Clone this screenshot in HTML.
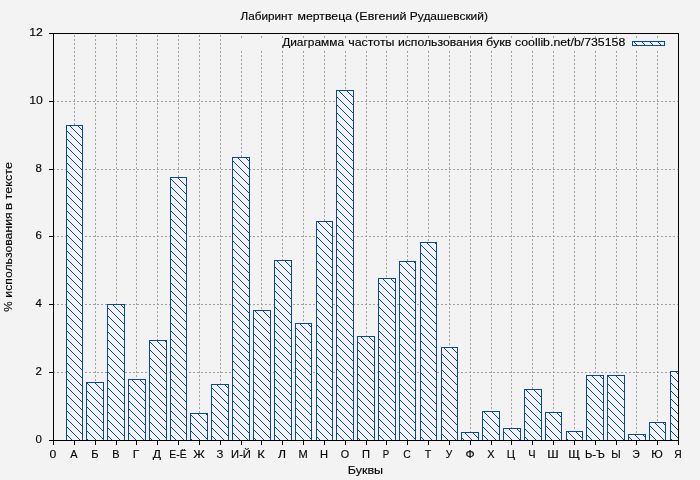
<!DOCTYPE html>
<html><head><meta charset="utf-8"><title>chart</title>
<style>html,body{margin:0;padding:0;background:#f3f3f3;}body{width:700px;height:480px;overflow:hidden;}svg{display:block;}text{font-family:"Liberation Sans",sans-serif;font-size:11.6px;fill:#000;stroke:#000;stroke-width:0.15;}</style>
</head><body>
<svg width="700" height="480" viewBox="0 0 700 480">
<defs><pattern id="h" x="0" y="0" width="8" height="8" patternUnits="userSpaceOnUse">
<rect x="0" y="0" width="8" height="8" fill="#f3f3f3"/>
<rect x="0" y="0" width="1" height="1" fill="#0645ad"/>
<rect x="1" y="1" width="1" height="1" fill="#0645ad"/>
<rect x="2" y="2" width="1" height="1" fill="#0645ad"/>
<rect x="3" y="3" width="1" height="1" fill="#0645ad"/>
<rect x="4" y="4" width="1" height="1" fill="#0645ad"/>
<rect x="5" y="5" width="1" height="1" fill="#0645ad"/>
<rect x="6" y="6" width="1" height="1" fill="#0645ad"/>
<rect x="7" y="7" width="1" height="1" fill="#0645ad"/>
</pattern></defs>
<rect x="0" y="0" width="700" height="480" fill="#f3f3f3"/>
<g stroke="#a0a0a0" stroke-width="1" stroke-dasharray="2 2" shape-rendering="crispEdges" fill="none">
<line x1="74.5" y1="441" x2="74.5" y2="34"/>
<line x1="95.5" y1="441" x2="95.5" y2="34"/>
<line x1="116.5" y1="441" x2="116.5" y2="34"/>
<line x1="136.5" y1="441" x2="136.5" y2="34"/>
<line x1="157.5" y1="441" x2="157.5" y2="34"/>
<line x1="178.5" y1="441" x2="178.5" y2="34"/>
<line x1="199.5" y1="441" x2="199.5" y2="34"/>
<line x1="220.5" y1="441" x2="220.5" y2="34"/>
<line x1="241.5" y1="441" x2="241.5" y2="50"/>
<line x1="241.5" y1="38" x2="241.5" y2="36"/>
<line x1="261.5" y1="441" x2="261.5" y2="50"/>
<line x1="261.5" y1="38" x2="261.5" y2="36"/>
<line x1="282.5" y1="441" x2="282.5" y2="50"/>
<line x1="282.5" y1="38" x2="282.5" y2="36"/>
<line x1="303.5" y1="441" x2="303.5" y2="50"/>
<line x1="303.5" y1="38" x2="303.5" y2="36"/>
<line x1="324.5" y1="441" x2="324.5" y2="50"/>
<line x1="324.5" y1="38" x2="324.5" y2="36"/>
<line x1="345.5" y1="441" x2="345.5" y2="50"/>
<line x1="345.5" y1="38" x2="345.5" y2="36"/>
<line x1="366.5" y1="441" x2="366.5" y2="50"/>
<line x1="366.5" y1="38" x2="366.5" y2="36"/>
<line x1="386.5" y1="441" x2="386.5" y2="50"/>
<line x1="386.5" y1="38" x2="386.5" y2="36"/>
<line x1="407.5" y1="441" x2="407.5" y2="50"/>
<line x1="407.5" y1="38" x2="407.5" y2="36"/>
<line x1="428.5" y1="441" x2="428.5" y2="50"/>
<line x1="428.5" y1="38" x2="428.5" y2="36"/>
<line x1="449.5" y1="441" x2="449.5" y2="50"/>
<line x1="449.5" y1="38" x2="449.5" y2="36"/>
<line x1="470.5" y1="441" x2="470.5" y2="50"/>
<line x1="470.5" y1="38" x2="470.5" y2="36"/>
<line x1="491.5" y1="441" x2="491.5" y2="50"/>
<line x1="491.5" y1="38" x2="491.5" y2="36"/>
<line x1="511.5" y1="441" x2="511.5" y2="50"/>
<line x1="511.5" y1="38" x2="511.5" y2="36"/>
<line x1="532.5" y1="441" x2="532.5" y2="50"/>
<line x1="532.5" y1="38" x2="532.5" y2="36"/>
<line x1="553.5" y1="441" x2="553.5" y2="50"/>
<line x1="553.5" y1="38" x2="553.5" y2="36"/>
<line x1="574.5" y1="441" x2="574.5" y2="50"/>
<line x1="574.5" y1="38" x2="574.5" y2="36"/>
<line x1="595.5" y1="441" x2="595.5" y2="50"/>
<line x1="595.5" y1="38" x2="595.5" y2="36"/>
<line x1="616.5" y1="441" x2="616.5" y2="50"/>
<line x1="616.5" y1="38" x2="616.5" y2="36"/>
<line x1="636.5" y1="441" x2="636.5" y2="50"/>
<line x1="636.5" y1="38" x2="636.5" y2="36"/>
<line x1="657.5" y1="441" x2="657.5" y2="50"/>
<line x1="657.5" y1="38" x2="657.5" y2="36"/>
<line x1="53" y1="372.5" x2="678" y2="372.5"/>
<line x1="53" y1="304.5" x2="678" y2="304.5"/>
<line x1="53" y1="236.5" x2="678" y2="236.5"/>
<line x1="53" y1="169.5" x2="678" y2="169.5"/>
<line x1="53" y1="101.5" x2="678" y2="101.5"/>
</g>
<g shape-rendering="crispEdges" fill="url(#h)" stroke="#0645ad" stroke-width="1">
<rect x="66.5" y="125.5" width="16.0" height="315.0"/>
<rect x="86.5" y="382.5" width="17.0" height="58.0"/>
<rect x="107.5" y="304.5" width="17.0" height="136.0"/>
<rect x="128.5" y="379.5" width="17.0" height="61.0"/>
<rect x="149.5" y="340.5" width="17.0" height="100.0"/>
<rect x="170.5" y="177.5" width="16.0" height="263.0"/>
<rect x="190.5" y="413.5" width="17.0" height="27.0"/>
<rect x="211.5" y="384.5" width="17.0" height="56.0"/>
<rect x="232.5" y="157.5" width="17.0" height="283.0"/>
<rect x="253.5" y="310.5" width="17.0" height="130.0"/>
<rect x="274.5" y="260.5" width="17.0" height="180.0"/>
<rect x="295.5" y="323.5" width="16.0" height="117.0"/>
<rect x="316.5" y="221.5" width="16.0" height="219.0"/>
<rect x="336.5" y="90.5" width="17.0" height="350.0"/>
<rect x="357.5" y="336.5" width="17.0" height="104.0"/>
<rect x="378.5" y="278.5" width="17.0" height="162.0"/>
<rect x="399.5" y="261.5" width="16.0" height="179.0"/>
<rect x="420.5" y="242.5" width="16.0" height="198.0"/>
<rect x="441.5" y="347.5" width="16.0" height="93.0"/>
<rect x="461.5" y="432.5" width="17.0" height="8.0"/>
<rect x="482.5" y="411.5" width="17.0" height="29.0"/>
<rect x="503.5" y="428.5" width="17.0" height="12.0"/>
<rect x="524.5" y="389.5" width="17.0" height="51.0"/>
<rect x="545.5" y="412.5" width="16.0" height="28.0"/>
<rect x="566.5" y="431.5" width="16.0" height="9.0"/>
<rect x="586.5" y="375.5" width="17.0" height="65.0"/>
<rect x="607.5" y="375.5" width="17.0" height="65.0"/>
<rect x="628.5" y="434.5" width="17.0" height="6.0"/>
<rect x="649.5" y="422.5" width="16.0" height="18.0"/>
<rect x="670.5" y="371.5" width="8.0" height="69.0"/>
<rect x="632.5" y="41.5" width="32" height="4"/>
</g>
<g stroke="#000" stroke-width="1" shape-rendering="crispEdges" fill="none">
<rect x="53.5" y="33.5" width="625.0" height="407.0"/>
<line x1="53.5" y1="440.5" x2="53.5" y2="445"/>
<line x1="74.5" y1="440.5" x2="74.5" y2="445"/>
<line x1="95.5" y1="440.5" x2="95.5" y2="445"/>
<line x1="116.5" y1="440.5" x2="116.5" y2="445"/>
<line x1="136.5" y1="440.5" x2="136.5" y2="445"/>
<line x1="157.5" y1="440.5" x2="157.5" y2="445"/>
<line x1="178.5" y1="440.5" x2="178.5" y2="445"/>
<line x1="199.5" y1="440.5" x2="199.5" y2="445"/>
<line x1="220.5" y1="440.5" x2="220.5" y2="445"/>
<line x1="241.5" y1="440.5" x2="241.5" y2="445"/>
<line x1="261.5" y1="440.5" x2="261.5" y2="445"/>
<line x1="282.5" y1="440.5" x2="282.5" y2="445"/>
<line x1="303.5" y1="440.5" x2="303.5" y2="445"/>
<line x1="324.5" y1="440.5" x2="324.5" y2="445"/>
<line x1="345.5" y1="440.5" x2="345.5" y2="445"/>
<line x1="366.5" y1="440.5" x2="366.5" y2="445"/>
<line x1="386.5" y1="440.5" x2="386.5" y2="445"/>
<line x1="407.5" y1="440.5" x2="407.5" y2="445"/>
<line x1="428.5" y1="440.5" x2="428.5" y2="445"/>
<line x1="449.5" y1="440.5" x2="449.5" y2="445"/>
<line x1="470.5" y1="440.5" x2="470.5" y2="445"/>
<line x1="491.5" y1="440.5" x2="491.5" y2="445"/>
<line x1="511.5" y1="440.5" x2="511.5" y2="445"/>
<line x1="532.5" y1="440.5" x2="532.5" y2="445"/>
<line x1="553.5" y1="440.5" x2="553.5" y2="445"/>
<line x1="574.5" y1="440.5" x2="574.5" y2="445"/>
<line x1="595.5" y1="440.5" x2="595.5" y2="445"/>
<line x1="616.5" y1="440.5" x2="616.5" y2="445"/>
<line x1="636.5" y1="440.5" x2="636.5" y2="445"/>
<line x1="657.5" y1="440.5" x2="657.5" y2="445"/>
<line x1="678.5" y1="440.5" x2="678.5" y2="445"/>
<line x1="49" y1="440.5" x2="53.5" y2="440.5"/>
<line x1="49" y1="372.5" x2="53.5" y2="372.5"/>
<line x1="49" y1="304.5" x2="53.5" y2="304.5"/>
<line x1="49" y1="236.5" x2="53.5" y2="236.5"/>
<line x1="49" y1="169.5" x2="53.5" y2="169.5"/>
<line x1="49" y1="101.5" x2="53.5" y2="101.5"/>
<line x1="49" y1="33.5" x2="53.5" y2="33.5"/>
</g>
<g style="opacity:0.999">
<text id="t1" x="240.55" y="20.00" textLength="52.43" lengthAdjust="spacingAndGlyphs">Лабиринт</text>
<text id="t2" x="297.55" y="20.00" textLength="54.43" lengthAdjust="spacingAndGlyphs">мертвеца</text>
<text id="t3" x="355.12" y="20.00" textLength="51.38" lengthAdjust="spacingAndGlyphs">(Евгений</text>
<text id="t4" x="409.85" y="20.00" textLength="78.11" lengthAdjust="spacingAndGlyphs">Рудашевский)</text>
<text id="k1" x="282.18" y="46.00" textLength="61.85" lengthAdjust="spacingAndGlyphs">Диаграмма</text>
<text id="k2" x="348.23" y="46.00" textLength="46.25" lengthAdjust="spacingAndGlyphs">частоты</text>
<text id="k3" x="397.93" y="46.00" textLength="85.03" lengthAdjust="spacingAndGlyphs">использования</text>
<text id="k4" x="486.04" y="46.00" textLength="25.49" lengthAdjust="spacingAndGlyphs">букв</text>
<text id="k5" x="515.07" y="46.00" textLength="110.20" lengthAdjust="spacingAndGlyphs">coollib.net/b/735158</text>
<text id="x1" x="347.75" y="474.00" textLength="35.38" lengthAdjust="spacingAndGlyphs">Буквы</text>
<text id="y1" transform="translate(12.40,311.74) rotate(-90)" textLength="10.40" lengthAdjust="spacingAndGlyphs">%</text>
<text id="y2" transform="translate(12.40,297.65) rotate(-90)" textLength="85.25" lengthAdjust="spacingAndGlyphs">использования</text>
<text id="y3" transform="translate(12.40,210.28) rotate(-90)" textLength="7.53" lengthAdjust="spacingAndGlyphs">в</text>
<text id="y4" transform="translate(12.40,199.46) rotate(-90)" textLength="37.57" lengthAdjust="spacingAndGlyphs">тексте</text>
<text x="41.8" y="443" text-anchor="end" textLength="6.4" lengthAdjust="spacingAndGlyphs">0</text>
<text x="41.8" y="375" text-anchor="end" textLength="6.4" lengthAdjust="spacingAndGlyphs">2</text>
<text x="41.8" y="307" text-anchor="end" textLength="6.4" lengthAdjust="spacingAndGlyphs">4</text>
<text x="41.8" y="239" text-anchor="end" textLength="6.4" lengthAdjust="spacingAndGlyphs">6</text>
<text x="41.8" y="172" text-anchor="end" textLength="6.4" lengthAdjust="spacingAndGlyphs">8</text>
<text x="42.8" y="104" text-anchor="end" textLength="13.6" lengthAdjust="spacingAndGlyphs">10</text>
<text x="42.8" y="36" text-anchor="end" textLength="13.6" lengthAdjust="spacingAndGlyphs">12</text>
<text x="53" y="458" text-anchor="middle" textLength="6.79" lengthAdjust="spacingAndGlyphs">0</text>
<text x="74" y="458" text-anchor="middle" textLength="7.30" lengthAdjust="spacingAndGlyphs">А</text>
<text x="95" y="458" text-anchor="middle" textLength="7.32" lengthAdjust="spacingAndGlyphs">Б</text>
<text x="116" y="458" text-anchor="middle" textLength="7.32" lengthAdjust="spacingAndGlyphs">В</text>
<text x="136" y="458" text-anchor="middle" textLength="6.51" lengthAdjust="spacingAndGlyphs">Г</text>
<text x="157" y="458" text-anchor="middle" textLength="8.33" lengthAdjust="spacingAndGlyphs">Д</text>
<text x="178" y="458" text-anchor="middle" textLength="17.33" lengthAdjust="spacingAndGlyphs">Е-Ё</text>
<text x="199" y="458" text-anchor="middle" textLength="11.49" lengthAdjust="spacingAndGlyphs">Ж</text>
<text x="220" y="458" text-anchor="middle" textLength="6.84" lengthAdjust="spacingAndGlyphs">З</text>
<text x="241" y="458" text-anchor="middle" textLength="19.81" lengthAdjust="spacingAndGlyphs">И-Й</text>
<text x="261" y="458" text-anchor="middle" textLength="7.57" lengthAdjust="spacingAndGlyphs">К</text>
<text x="282" y="458" text-anchor="middle" textLength="8.02" lengthAdjust="spacingAndGlyphs">Л</text>
<text x="303" y="458" text-anchor="middle" textLength="9.20" lengthAdjust="spacingAndGlyphs">М</text>
<text x="324" y="458" text-anchor="middle" textLength="8.02" lengthAdjust="spacingAndGlyphs">Н</text>
<text x="345" y="458" text-anchor="middle" textLength="8.40" lengthAdjust="spacingAndGlyphs">О</text>
<text x="366" y="458" text-anchor="middle" textLength="8.02" lengthAdjust="spacingAndGlyphs">П</text>
<text x="386" y="458" text-anchor="middle" textLength="6.43" lengthAdjust="spacingAndGlyphs">Р</text>
<text x="407" y="458" text-anchor="middle" textLength="7.45" lengthAdjust="spacingAndGlyphs">С</text>
<text x="428" y="458" text-anchor="middle" textLength="6.52" lengthAdjust="spacingAndGlyphs">Т</text>
<text x="449" y="458" text-anchor="middle" textLength="6.50" lengthAdjust="spacingAndGlyphs">У</text>
<text x="470" y="458" text-anchor="middle" textLength="9.18" lengthAdjust="spacingAndGlyphs">Ф</text>
<text x="491" y="458" text-anchor="middle" textLength="7.31" lengthAdjust="spacingAndGlyphs">Х</text>
<text x="511" y="458" text-anchor="middle" textLength="8.28" lengthAdjust="spacingAndGlyphs">Ц</text>
<text x="532" y="458" text-anchor="middle" textLength="7.31" lengthAdjust="spacingAndGlyphs">Ч</text>
<text x="553" y="458" text-anchor="middle" textLength="11.41" lengthAdjust="spacingAndGlyphs">Ш</text>
<text x="574" y="458" text-anchor="middle" textLength="11.67" lengthAdjust="spacingAndGlyphs">Щ</text>
<text x="595" y="458" text-anchor="middle" textLength="20.05" lengthAdjust="spacingAndGlyphs">Ь-Ъ</text>
<text x="616" y="458" text-anchor="middle" textLength="9.41" lengthAdjust="spacingAndGlyphs">Ы</text>
<text x="636" y="458" text-anchor="middle" textLength="7.45" lengthAdjust="spacingAndGlyphs">Э</text>
<text x="657" y="458" text-anchor="middle" textLength="11.52" lengthAdjust="spacingAndGlyphs">Ю</text>
<text x="678" y="458" text-anchor="middle" textLength="7.41" lengthAdjust="spacingAndGlyphs">Я</text>
</g>
</svg>
</body></html>
